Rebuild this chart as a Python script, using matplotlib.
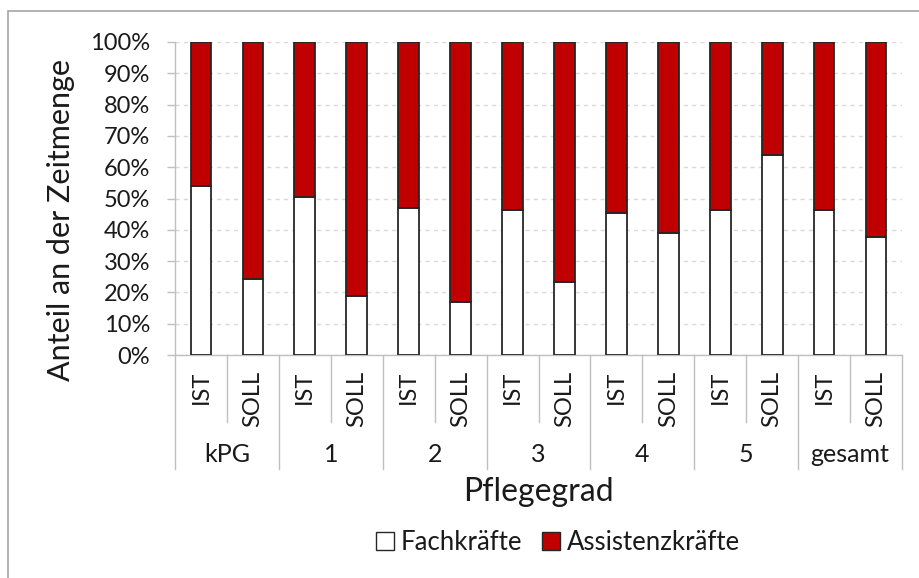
import matplotlib
matplotlib.use('Agg')
import matplotlib.pyplot as plt
import numpy as np
from matplotlib.patches import Rectangle, Patch

plt.rcParams['font.family'] = ['Lato', 'DejaVu Sans']

# Anteile Fachkräfte je Pflegegrad (IST / SOLL), Rest = Assistenzkräfte
groups = ['kPG', '1', '2', '3', '4', '5', 'gesamt']
sub_labels = ['IST', 'SOLL']
fach = [54.0, 24.4, 50.6, 18.9, 46.9, 16.9, 46.4, 23.2, 45.5, 39.0, 46.2, 63.9, 46.2, 37.7]
assist = [100 - v for v in fach]

red = '#C00000'
grey = '#BFBFBF'
txt = '#1A1A1A'

fig = plt.figure(figsize=(9.19, 5.78), dpi=100)
W, H = 919, 578
ax = fig.add_axes([175 / W, 1 - 355 / H, (902 - 175) / W, (355 - 42) / H])

# Rahmen um das Diagramm
fig.patches.append(Rectangle((8 / W, -0.1), 1.2, 1 - 11 / H + 0.1, transform=fig.transFigure,
                             fill=False, edgecolor='#A6A6A6', linewidth=1.2))

x = np.arange(len(fach)) + 0.5
ax.bar(x, fach, width=0.4, color='white', edgecolor='#262626', linewidth=1.3, zorder=3)
ax.bar(x, assist, width=0.4, bottom=fach, color=red, edgecolor='#262626', linewidth=1.3, zorder=3)

ax.set_xlim(0, len(fach))
ax.set_ylim(0, 100)
ax.set_yticks(np.arange(0, 101, 10))
ax.set_yticklabels([f'{v}%' for v in range(0, 101, 10)], fontsize=17, color=txt)
ax.tick_params(axis='y', length=6, width=1, color=grey, pad=12)
ax.set_xticks([])
ax.yaxis.grid(True, linestyle=(0, (3, 3)), color='#D9D9D9', linewidth=1)
ax.set_axisbelow(True)
for s in ['top', 'right']:
    ax.spines[s].set_visible(False)
for s in ['left', 'bottom']:
    ax.spines[s].set_color(grey)
    ax.spines[s].set_linewidth(1)

# Kategorienachse mit zwei Ebenen
trans = matplotlib.transforms.blended_transform_factory(ax.transData, ax.transAxes)
inner = -67 / 313
outer = -114 / 313
for i in range(len(fach) + 1):
    low = outer if i % 2 == 0 else inner
    ax.plot([i, i], [0, low], transform=trans, color=grey, linewidth=1, clip_on=False)
for i, xi in enumerate(x):
    ax.text(xi, -16 / 313, sub_labels[i % 2], transform=trans, rotation=90,
            ha='center', va='top', fontsize=17, color=txt)
for g, name in enumerate(groups):
    ax.text(2 * g + 1, -100 / 313, name, transform=trans, ha='center', va='center',
            fontsize=18, color=txt)

fig.text(61 / W, 1 - 220 / H, 'Anteil an der Zeitmenge', rotation=90, ha='center', va='center',
         fontsize=22, color=txt)
fig.text(538 / W, 1 - 492 / H, 'Pflegegrad', ha='center', va='center', fontsize=23, color=txt)

handles = [Patch(facecolor='white', edgecolor='#262626', linewidth=1),
           Patch(facecolor=red, edgecolor='#262626', linewidth=1)]
fig.legend(handles, ['Fachkräfte', 'Assistenzkräfte'], loc='center', bbox_to_anchor=(558 / W, 1 - 542 / H),
           ncol=2, frameon=False, fontsize=18.5, handlelength=0.7, handleheight=0.7,
           handletextpad=0.25, columnspacing=0.8, labelcolor=txt)

fig.savefig('out.png', dpi=100)
